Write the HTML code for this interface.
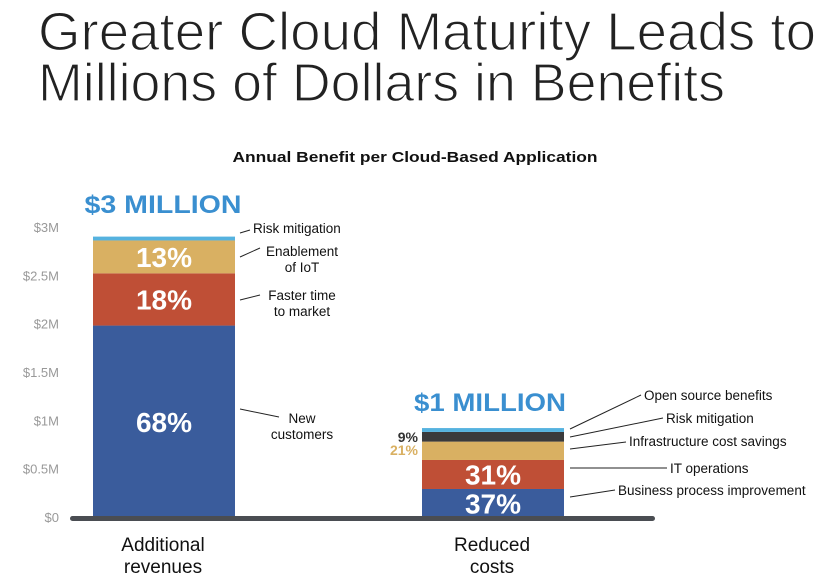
<!DOCTYPE html>
<html><head><meta charset="utf-8"><style>
html,body{margin:0;padding:0;background:#fff;}
svg{display:block;font-family:"Liberation Sans",sans-serif;}
</style></head><body>
<svg id="chart" width="830" height="584" viewBox="0 0 830 584">
<text x="38" y="50" font-size="54" font-weight="300" fill="#222" stroke="#fff" stroke-width="1.3" paint-order="normal" textLength="778" lengthAdjust="spacingAndGlyphs">Greater Cloud Maturity Leads to</text>
<text x="38" y="101" font-size="54" font-weight="300" fill="#222" stroke="#fff" stroke-width="1.3" textLength="687" lengthAdjust="spacingAndGlyphs">Millions of Dollars in Benefits</text>
<text x="415" y="162" font-size="15" font-weight="bold" fill="#111" text-anchor="middle" textLength="365" lengthAdjust="spacingAndGlyphs">Annual Benefit per Cloud-Based Application</text>
<g id="yaxis"></g>
<g id="bars"></g>
<rect x="70" y="516" width="585" height="5" rx="2.5" fill="#4a4d52"/>
<text x="163" y="551" font-size="19" fill="#111" text-anchor="middle">Additional</text>
<text x="163" y="573" font-size="19" fill="#111" text-anchor="middle">revenues</text>
<text x="492" y="551" font-size="19" fill="#111" text-anchor="middle">Reduced</text>
<text x="492" y="573" font-size="19" fill="#111" text-anchor="middle">costs</text>
<text x="163" y="213" font-size="25" font-weight="bold" fill="#3a8fd0" text-anchor="middle" textLength="157" lengthAdjust="spacingAndGlyphs">$3 MILLION</text>
<text x="490" y="411" font-size="25" font-weight="bold" fill="#3a8fd0" text-anchor="middle" textLength="152" lengthAdjust="spacingAndGlyphs">$1 MILLION</text>
<g font-size="13.5" fill="#111">
<line x1="240" y1="233" x2="250" y2="230" stroke="#222"/>
<text x="253" y="233">Risk mitigation</text>
<line x1="240" y1="257" x2="260" y2="248" stroke="#222"/>
<text x="302" y="256" text-anchor="middle"><tspan x="302">Enablement</tspan><tspan x="302" dy="16">of IoT</tspan></text>
<line x1="240" y1="300" x2="260" y2="295" stroke="#222"/>
<text x="302" y="300" text-anchor="middle"><tspan x="302">Faster time</tspan><tspan x="302" dy="16">to market</tspan></text>
<line x1="240" y1="409" x2="279" y2="417" stroke="#222"/>
<text x="302" y="423" text-anchor="middle"><tspan x="302">New</tspan><tspan x="302" dy="16">customers</tspan></text>
<line x1="570" y1="429" x2="641" y2="395" stroke="#222"/>
<text x="644" y="400">Open source benefits</text>
<line x1="570" y1="437" x2="663" y2="418" stroke="#222"/>
<text x="666" y="423">Risk mitigation</text>
<line x1="570" y1="449" x2="626" y2="442" stroke="#222"/>
<text x="629" y="446">Infrastructure cost savings</text>
<line x1="570" y1="468" x2="667" y2="468" stroke="#222"/>
<text x="670" y="473">IT operations</text>
<line x1="570" y1="497" x2="615" y2="490" stroke="#222"/>
<text x="618" y="495">Business process improvement</text>
</g>
</svg>
<script>
const yTicks = [0, 0.5, 1, 1.5, 2, 2.5, 3];
const yTickLabels = ["$0", "$0.5M", "$1M", "$1.5M", "$2M", "$2.5M", "$3M"];
const categories = ["Additional revenues", "Reduced costs"];
const revenueSegments = ["New customers", "Faster time to market", "Enablement of IoT", "Risk mitigation"];
const revenueValues = [1.99, 0.54, 0.34, 0.04];
const revenueLabels = ["68%", "18%", "13%", ""];
const costSegments = ["Business process improvement", "IT operations", "Infrastructure cost savings", "Risk mitigation", "Open source benefits"];
const costValues = [0.30, 0.30, 0.19, 0.10, 0.04];
const costLabels = ["37%", "31%", "21%", "9%", ""];
const revenueColors = ["#3a5c9c", "#bf4f36", "#d9b062", "#55b2df"];
const costColors = ["#3a5c9c", "#bf4f36", "#d9b062", "#3a3a3c", "#55b2df"];

const NS = "http://www.w3.org/2000/svg";
const y0 = 518, pxPerM = 96.7;
function yScale(v){ return y0 - v * pxPerM; }
const barX = [93, 422], barW = 142;
function xScale(i){ return barX[i]; }

const yaxis = document.getElementById('yaxis');
yTicks.forEach((t, i) => {
  const tx = document.createElementNS(NS, 'text');
  tx.setAttribute('x', 59); tx.setAttribute('y', yScale(t) + 4);
  tx.setAttribute('text-anchor', 'end'); tx.setAttribute('font-size', '13');
  tx.setAttribute('fill', '#999');
  tx.textContent = yTickLabels[i];
  
  
  yaxis.appendChild(tx);
});

const bars = document.getElementById('bars');
function drawStack(ci, vals, labels, colors, names){
  let cum = 0;
  vals.forEach((v, i) => {
    const yTop = yScale(cum + v), yBot = yScale(cum);
    const r = document.createElementNS(NS, 'rect');
    r.setAttribute('x', xScale(ci)); r.setAttribute('y', yTop);
    r.setAttribute('width', barW); r.setAttribute('height', yBot - yTop);
    r.setAttribute('fill', colors[i]);
    
    
    const tt = document.createElementNS(NS, 'title'); tt.textContent = names[i] + ': $' + v + 'M';
    r.appendChild(tt);
    bars.appendChild(r);
    const lbl = labels[i];
    if (lbl) {
      const h = yBot - yTop;
      const t = document.createElementNS(NS, 'text');
      t.setAttribute('font-weight', 'bold');
      if (h >= 25) {
        t.setAttribute('x', xScale(ci) + barW/2);
        t.setAttribute('y', (yTop + yBot)/2 + 10);
        t.setAttribute('text-anchor', 'middle');
        t.setAttribute('font-size', '28'); t.setAttribute('fill', '#fff');
      } else {
        t.setAttribute('x', xScale(ci) - 4);
        t.setAttribute('y', (yTop + yBot)/2 + (i === 2 ? 4 : 5));
        t.setAttribute('text-anchor', 'end');
        t.setAttribute('font-size', '14'); t.setAttribute('fill', i === 2 ? '#d9b062' : '#333');
      }
      t.textContent = lbl;
      
      
      bars.appendChild(t);
    }
    cum += v;
  });
}
drawStack(0, revenueValues, revenueLabels, revenueColors, revenueSegments);
drawStack(1, costValues, costLabels, costColors, costSegments);
</script>
</body></html>
